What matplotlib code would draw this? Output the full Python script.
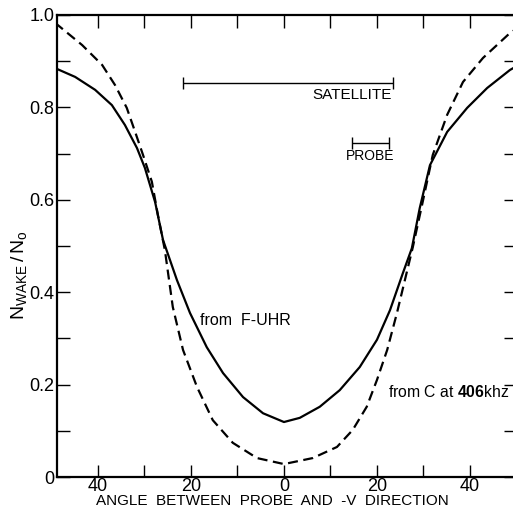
import matplotlib
matplotlib.use("Agg")
import matplotlib.pyplot as plt

plt.rcParams['font.family'] = ['Liberation Sans', 'DejaVu Sans']
plt.rcParams['mathtext.fontset'] = 'custom'
plt.rcParams['mathtext.rm'] = 'Liberation Sans'
plt.rcParams['mathtext.bf'] = 'Liberation Sans:bold'

# curve: from F-UHR (solid)
angle_fuhr = [-49.2, -44.9, -40.6, -37.0, -34.2, -31.6, -29.9, -27.7, -26.0, -23.0,
              -20.2, -16.6, -13.1, -8.8, -4.5, 0.0, 3.4, 7.7, 12.0, 16.3,
              20.0, 22.8, 25.6, 27.5, 29.2, 31.4, 35.1, 39.4, 43.7, 48.6, 50.0]
nwake_fuhr = [0.885, 0.866, 0.838, 0.805, 0.762, 0.712, 0.669, 0.595, 0.513, 0.426,
              0.355, 0.281, 0.225, 0.173, 0.138, 0.119, 0.128, 0.152, 0.188, 0.238,
              0.297, 0.361, 0.442, 0.495, 0.582, 0.675, 0.747, 0.799, 0.842, 0.881, 0.889]

# from C at 406 kHz (dashed)
angle_c406 = [-49.2, -48.6, -43.4, -39.1, -36.3, -33.8, -32.0, -30.3, -28.4, -27.1, -25.6,
              -23.9, -21.7, -18.7, -15.3, -11.0, -5.8, 0.0, 6.2, 11.4,
              14.8, 17.8, 20.0, 22.2, 24.3, 26.0, 27.7, 29.7, 32.0, 35.1,
              38.5, 42.8, 48.6, 50.0]
nwake_c406 = [0.983, 0.978, 0.935, 0.892, 0.848, 0.799, 0.747, 0.697, 0.639, 0.567, 0.491,
              0.368, 0.275, 0.195, 0.123, 0.074, 0.041, 0.028, 0.041, 0.065,
              0.102, 0.152, 0.210, 0.275, 0.355, 0.426, 0.497, 0.589, 0.697, 0.784,
              0.855, 0.907, 0.961, 0.970]

satellite_range = [-21.7, 23.4]
satellite_level = 0.853
probe_range = [14.6, 22.6]
probe_level = 0.723

xticks = [-40, -20, 0, 20, 40]
xtick_labels = ['40', '20', '0', '20', '40']
yticks = [0, 0.2, 0.4, 0.6, 0.8, 1.0]
ytick_labels = ['0', '0.2', '0.4', '0.6', '0.8', '1.0']

fig = plt.figure(figsize=(5.13, 5.16), dpi=100)
ax = fig.add_axes([57 / 513, 39 / 516, 459 / 513, 462 / 516])

ax.plot(angle_fuhr, nwake_fuhr, color='black', lw=1.6)
ax.plot(angle_c406, nwake_c406, color='black', lw=1.6, linestyle=(0, (4.5, 2.5)))

for rng, lvl in [(satellite_range, satellite_level), (probe_range, probe_level)]:
    mid = (rng[0] + rng[1]) / 2
    ax.errorbar(mid, lvl, xerr=(rng[1] - rng[0]) / 2, fmt='none', ecolor='black',
                elinewidth=1.0, capsize=4, capthick=1.0)

ax.text(satellite_range[1] - 0.2, 0.842, 'SATELLITE', ha='right', va='top', fontsize=11)
ax.text(sum(probe_range) / 2, 0.695, 'PROBE', ha='center', va='center', fontsize=10)
ax.text(-18.0, 0.338, 'from  F-UHR', ha='left', va='center', fontsize=11.5)
ax.text(22.4, 0.184, r'from C at $\mathbf{406}$khz', ha='left', va='center', fontsize=11.3)

ax.set_xlim(-48.8, 49.9)
ax.set_ylim(0, 1.0)
ax.set_xticks(xticks)
ax.set_xticklabels(xtick_labels)
ax.set_xticks(range(-40, 50, 10), minor=True)
ax.set_yticks(yticks)
ax.set_yticklabels(ytick_labels)
ax.set_yticks([i / 10 for i in range(11)], minor=True)

ax.tick_params(which='both', direction='in', top=True, right=True, length=9, width=1.0,
               labelsize=13)
ax.tick_params(axis='x', which='both', pad=0.5)
ax.tick_params(axis='y', which='both', pad=2)
for sp in ax.spines.values():
    sp.set_linewidth(1.6)

ax.set_xlabel('ANGLE  BETWEEN  PROBE  AND  -V  DIRECTION', fontsize=11)
ax.xaxis.set_label_coords(0.469, -0.036)
ax.set_ylabel(r'$\mathrm{N_{WAKE}}\,/\,\mathrm{N_o}$', fontsize=14)
ax.yaxis.set_label_coords(-0.062, 0.437)

fig.savefig('out.png', dpi=100)
